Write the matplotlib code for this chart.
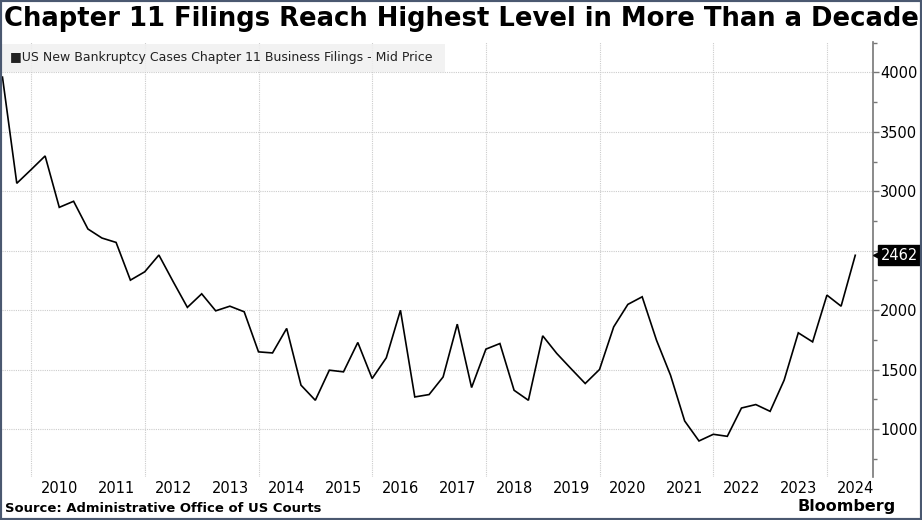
import matplotlib
matplotlib.use("Agg")
import matplotlib.pyplot as plt
import matplotlib.dates as mdates
import matplotlib.transforms as mtransforms
from matplotlib.ticker import MultipleLocator
from matplotlib.patches import Rectangle
import pandas as pd
import datetime as dt

# ---- data (quarterly, quarter-end dates) ----
start_quarter = "2009-06-30"
filings = [
    3960, 3067, 3182,
    3297, 2865, 2916, 2683,
    2607, 2570, 2253, 2323,
    2464, 2242, 2024, 2138,
    1995, 2034, 1987, 1650,
    1641, 1847, 1370, 1243,
    1496, 1482, 1729, 1426,
    1600, 2000, 1271, 1291,
    1439, 1883, 1350, 1673,
    1720, 1327, 1243, 1785,
    1637, 1510, 1384, 1502,
    1860, 2049, 2113, 1748,
    1454, 1069, 901, 957,
    940, 1178, 1207, 1150,
    1412, 1810, 1734, 2127,
    2034, 2462,
]
year_labels = list(range(2010, 2025))
title = "Chapter 11 Filings Reach Highest Level in More Than a Decade"
series_name = "US New Bankruptcy Cases Chapter 11 Business Filings - Mid Price"
source = "Source: Administrative Office of US Courts"

dates = pd.date_range(start_quarter, periods=len(filings), freq="QE")

W, H = 922, 520
fig = plt.figure(figsize=(W / 100, H / 100), dpi=100)
fig.patch.set_facecolor("white")

ax_l, ax_r, ax_t, ax_b = 2, 873, 42, 477
ax = fig.add_axes([ax_l / W, 1 - ax_b / H, (ax_r - ax_l) / W, (ax_b - ax_t) / H])
ax.set_facecolor("white")

ax.plot(dates, filings, color="black", lw=1.2, solid_joinstyle="miter", zorder=3)

ax.set_xlim(mdates.date2num(dt.datetime(2009, 6, 27)), mdates.date2num(dt.datetime(2024, 10, 22)))
ax.set_ylim(598, 4255)

# y axis on right
ax.yaxis.tick_right()
ax.yaxis.set_minor_locator(MultipleLocator(250))
ax.set_yticks([1000, 1500, 2000, 2500, 3000, 3500, 4000])
ax.set_yticklabels(["1000", "1500", "2000", "", "3000", "3500", "4000"])
ax.tick_params(axis="y", which="major", direction="out", length=4, width=1, color="#777777",
               labelsize=10.5, pad=1, labelcolor="black")
ax.tick_params(axis="y", which="minor", direction="out", length=3, width=1, color="#777777")

# x axis: gridlines at start of even years, labels at mid-year
grid_years = [dt.datetime(y, 1, 1) for y in range(2010, 2025, 2)]
label_pos = [mdates.date2num(dt.datetime(y, 7, 1)) for y in year_labels]
ax.set_xticks(label_pos)
ax.set_xticklabels([str(y) for y in year_labels])
ax.tick_params(axis="x", length=0, labelsize=10.5, pad=3)
grid_kw = dict(color="#cccccc", lw=0.8, ls=(0, (1, 1)), zorder=1)
for g in grid_years:
    ax.axvline(mdates.date2num(g), **grid_kw)
for v in range(1000, 4001, 500):
    ax.axhline(v, **grid_kw)

for s in ["top", "left", "bottom"]:
    ax.spines[s].set_visible(False)
ax.spines["right"].set_color("#777777")
ax.spines["right"].set_linewidth(1.2)

# last value label
last_val = filings[-1]
trans = mtransforms.blended_transform_factory(ax.transAxes, ax.transData)
tri_trans = mtransforms.offset_copy(trans, fig=fig, x=6, y=0, units="dots")
ax.plot([1.0], [last_val], marker="<", ms=8, color="black", mec="black",
        transform=tri_trans, clip_on=False, zorder=5)
ax.annotate(str(last_val), xy=(1.0, last_val), xycoords=trans, xytext=(8, 0),
            textcoords="offset pixels", ha="left", va="center", color="white",
            fontsize=10.5, annotation_clip=False, zorder=7,
            bbox=dict(boxstyle="square,pad=0.18", fc="black", ec="black"))

# legend box
fig.patches.append(Rectangle((2 / W, 1 - 72 / H), (445 - 2) / W, (72 - 44) / H,
                             transform=fig.transFigure, fc="#f0f0f0", ec="none", alpha=0.85, zorder=5))
fig.text(10 / W, 1 - 58 / H, "\u25a0" + series_name, fontsize=9.0, va="center", ha="left",
         color="#222222", zorder=6)

# title, fitted to width
t = fig.text(4 / W, 1 - 19 / H, title, fontsize=19, fontweight="bold", va="center", ha="left")
fig.canvas.draw()
bb = t.get_window_extent()
t.set_fontsize(19 * (914 / bb.width))

s = fig.text(5 / W, 1 - 508 / H, source, fontsize=8.6, fontweight="bold", va="center", ha="left")
fig.canvas.draw()
sb = s.get_window_extent()
s.set_fontsize(8.6 * (315 / sb.width))

fig.text(896 / W, 1 - 507 / H, "Bloomberg", fontsize=11.5, fontweight="bold", va="center", ha="right")

# border
fig.patches.append(Rectangle((0, 0), 1, 1, transform=fig.transFigure, fill=False,
                             ec="#4a5870", lw=3, zorder=10))

fig.savefig("out.png", dpi=100)
